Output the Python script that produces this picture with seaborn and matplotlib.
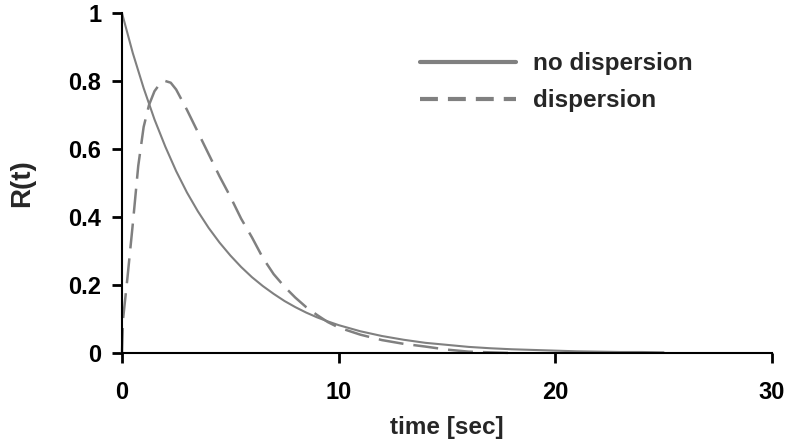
import numpy as np
import pandas as pd
import matplotlib
matplotlib.use("Agg")
import matplotlib.pyplot as plt
import seaborn as sns
from matplotlib.lines import Line2D

# ---- data ----
t_nodisp = [0, 0.5, 1, 1.5, 2, 2.5, 3, 3.5, 4, 4.5, 5, 5.5, 6, 6.5, 7, 7.5, 8, 8.5, 9, 9.5,
            10, 11, 12, 13, 14, 15, 16, 17, 18, 19, 20, 21, 22, 23, 24, 25]
r_nodisp = [1.0, 0.882, 0.779, 0.687, 0.607, 0.535, 0.472, 0.417, 0.368, 0.325, 0.287, 0.253,
            0.223, 0.197, 0.174, 0.153, 0.135, 0.119, 0.105, 0.093, 0.082, 0.064, 0.050, 0.039,
            0.030, 0.024, 0.018, 0.014, 0.011, 0.009, 0.007, 0.005, 0.004, 0.003, 0.003, 0.002]

t_disp = [0, 0.05, 0.25, 0.5, 0.75, 1.0, 1.25, 1.5, 1.75, 2.0, 2.25, 2.5, 3.0, 3.5, 4.0, 4.5,
          5.0, 5.5, 6.0, 6.5, 7.0, 7.5, 8.0, 8.5, 9.0, 9.5, 10, 11, 12, 13, 14, 15, 16, 17, 18]
r_disp = [0.0, 0.10, 0.22, 0.38, 0.55, 0.665, 0.73, 0.77, 0.792, 0.80, 0.795, 0.775, 0.715,
          0.65, 0.585, 0.52, 0.46, 0.395, 0.34, 0.28, 0.232, 0.195, 0.163, 0.135, 0.112, 0.091,
          0.075, 0.054, 0.038, 0.027, 0.019, 0.010, 0.004, 0.002, 0.0]

x_ticks = [0, 10, 20, 30]
y_ticks = [0, 0.2, 0.4, 0.6, 0.8, 1.0]
y_ticklabels = ["0", "0.2", "0.4", "0.6", "0.8", "1"]
labels = ["no dispersion", "dispersion"]
x_title = "time [sec]"
y_title = "R(t)"

# ---- plot ----
sns.set_style("ticks")
plt.rcParams['font.family'] = ['Liberation Sans', 'DejaVu Sans']
plt.rcParams['font.weight'] = 'bold'

fig = plt.figure(figsize=(7.88, 4.41), dpi=100)
ax = fig.add_axes([0.1548, 0.1995, 0.8249, 0.771])

gray = "#808080"
df1 = pd.DataFrame({"t": t_nodisp, "r": r_nodisp})
df2 = pd.DataFrame({"t": t_disp, "r": r_disp})
sns.lineplot(data=df1, x="t", y="r", ax=ax, color=gray, linewidth=1.5, clip_on=False)
sns.lineplot(data=df2, x="t", y="r", ax=ax, color=gray, linewidth=1.8,
             dashes=False, linestyle=(0, (10, 4)), clip_on=False)

ax.set_xlim(0, 30)
ax.set_ylim(0, 1)
ax.set_xticks(x_ticks)
ax.set_xticklabels([str(v) for v in x_ticks])
ax.set_yticks(y_ticks)
ax.set_yticklabels(y_ticklabels)

ax.spines["top"].set_visible(False)
ax.spines["right"].set_visible(False)
ax.spines["left"].set_linewidth(1.5)
ax.spines["bottom"].set_linewidth(1.5)
ax.spines["left"].set_edgecolor("black")
ax.spines["bottom"].set_edgecolor("black")

ax.set_xlabel(x_title, fontsize=17.5, fontweight="bold", labelpad=9)
ax.set_ylabel(y_title, fontsize=20, fontweight="bold", labelpad=24)

handles = [Line2D([], [], color=gray, linewidth=3),
           Line2D([], [], color=gray, linewidth=3, linestyle=(0, (4.3, 2.4)))]
leg = ax.legend(handles, labels, loc="upper left", bbox_to_anchor=(0.458, 0.885),
                frameon=False, fontsize=17.5, handlelength=3.95, handletextpad=0.7,
                labelspacing=0.58, borderpad=0, borderaxespad=0)
for txt in leg.get_texts():
    txt.set_fontweight("bold")

# ticks last
ax.xaxis.set_tick_params(which="major", direction="out", length=7, width=2,
                         color="#000000", labelsize=17, pad=13, bottom=True, top=False)
ax.yaxis.set_tick_params(which="major", direction="out", length=7, width=2,
                         color="#000000", labelsize=17, pad=8, left=True, right=False)
for lab in ax.get_xticklabels() + ax.get_yticklabels():
    lab.set_fontweight("bold")
    lab.set_color("black")

fig.savefig("out.png", dpi=100)
